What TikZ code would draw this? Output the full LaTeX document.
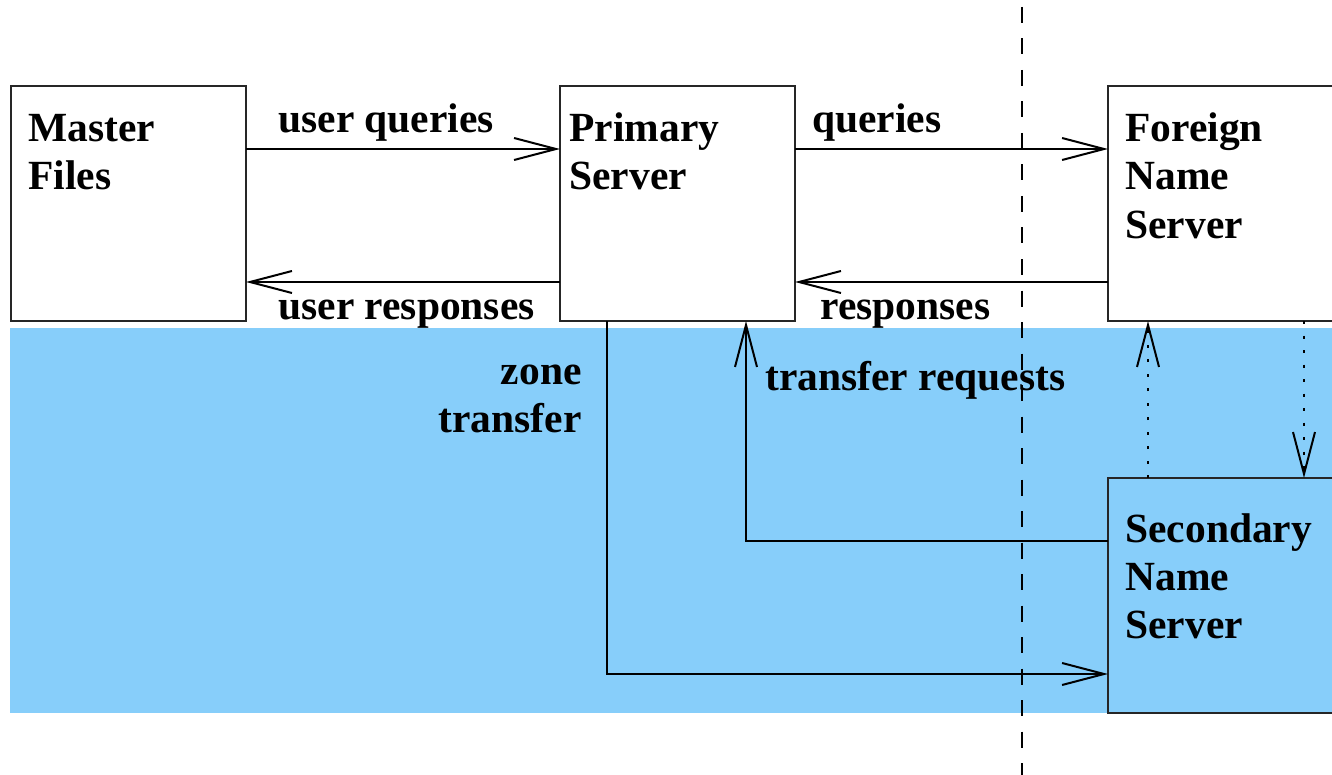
\documentclass[tikz,border=0pt]{standalone}
\usepackage{fontspec}
\setmainfont{Liberation Serif}
\usetikzlibrary{arrows.meta}
\definecolor{skyb}{RGB}{135,206,250}
\begin{document}
\begin{tikzpicture}[x=0.5pt,y=-0.5pt,
  box/.style={draw=black!85,line width=0.75pt,minimum width=117.5pt,minimum height=117.5pt,anchor=north west,inner sep=0pt,outer sep=0pt},
  txt/.style={anchor=base west,inner sep=0pt,font=\fontsize{20.75pt}{24pt}\selectfont\bfseries},
  rtxt/.style={txt,anchor=base east},
  arr/.style={line width=1pt,-{Straight Barb[length=21pt,width=11pt]}},
  dotarr/.style={arr,dash pattern=on 1.5pt off 5.75pt},
  sep/.style={line width=1pt,dash pattern=on 8pt off 7.75pt}
]
\useasboundingbox (0,0) rectangle (1332,775);
\clip (0,0) rectangle (1332,775);
\fill[white] (0,0) rectangle (1332,775);
\fill[skyb] (10,328) rectangle (1340,713);

\node[box,fill=white] (master) at (11,86) {};
\node[box,fill=white] (primary) at (560,86) {};
\node[box,fill=white] (foreign) at (1108,86) {};
\node[box,fill=skyb] (secondary) at (1108,478) {};

\draw[arr] ([yshift=-31.5pt]master.north east) -- ([yshift=-31.5pt]primary.north west);
\draw[arr] ([yshift=-98pt]primary.north west) -- ([yshift=-98pt]master.north east);
\draw[arr] ([yshift=-31.5pt]primary.north east) -- ([yshift=-31.5pt]foreign.north west);
\draw[arr] ([yshift=-98pt]foreign.north west) -- ([yshift=-98pt]primary.north east);
\draw[arr] ([xshift=23.5pt]primary.south west) |- ([yshift=19.5pt]secondary.south west);
\draw[arr] ([yshift=-31.5pt]secondary.north west) -| ([xshift=93pt]primary.south west);
\draw[dotarr] ([xshift=20pt]secondary.north west) -- ([xshift=20pt]foreign.south west);
\draw[dotarr] ([xshift=98pt]foreign.south west) -- ([xshift=98pt]secondary.north west);

\node[txt] (m1) at (28,142) {Master};
\node[txt] (m2) at (28,190) {Files};
\node[txt] (p1) at (569,142) {Primary};
\node[txt] (p2) at (569,190) {Server};
\node[txt] (f1) at (1125,142) {Foreign};
\node[txt] (f2) at (1125,190) {Name};
\node[txt] (f3) at (1125,239) {Server};
\node[txt] (s1) at (1125,542) {Secondary};
\node[txt] (s2) at (1125,590) {Name};
\node[txt] (s3) at (1125,638) {Server};

\node[txt] (uq) at (278,133) {user queries};
\node[txt] (q) at (812,133) {queries};
\node[txt] (ur) at (278,319) {user responses};
\node[txt] (r) at (820,319) {responses};
\node[rtxt] (z1) at (582,384) {zone};
\node[rtxt] (z2) at (582,432) {transfer};
\node[txt] (tr) at (765,390) {transfer requests};

\coordinate (dtop) at (1022,7);
\coordinate (dbot) at (1022,775);
\draw[sep] (dtop) -- (dbot);
\end{tikzpicture}
\end{document}
